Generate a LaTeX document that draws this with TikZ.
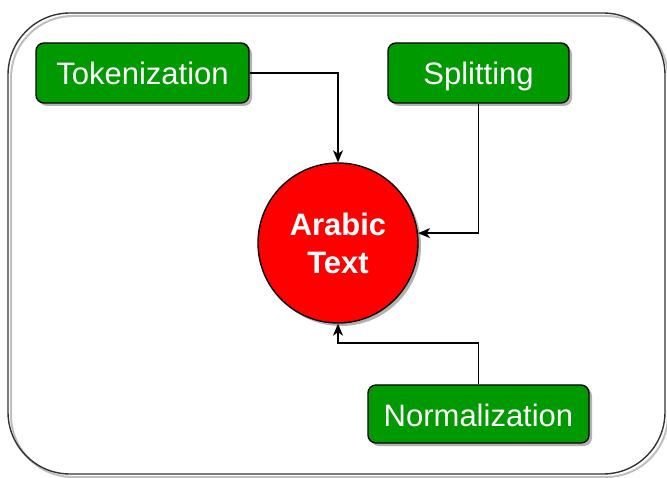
\documentclass[tikz,border=0pt]{standalone}
\usepackage{fontspec}
\setmainfont{Liberation Sans}
\usetikzlibrary{arrows.meta,calc}
\definecolor{boxgreen}{HTML}{009900}
\definecolor{circred}{HTML}{FF0000}
\tikzset{
  stepbox/.style={draw=black, line width=1.4pt, fill=boxgreen, rounded corners=8pt,
    text=white, font=\fontsize{31}{38}\selectfont, inner sep=0pt, anchor=center,
    text height=28pt, text depth=4pt},
  shadowed/.style={preaction={fill=black, opacity=0.3, transform canvas={shift={(3pt,-3pt)}}}},
  bigcirc/.style={circle, draw=black, line width=1.4pt, fill=circred, text=white,
    minimum size=160pt, inner sep=0pt, align=center,
    font=\bfseries\fontsize{31}{38}\selectfont},
  arr/.style={draw=black, line width=1.4pt, -{Stealth[length=12pt,width=10pt,inset=3.5pt]}},
  outer/.style={draw=black!80, line width=1.4pt, rounded corners=62pt}
}
\begin{document}
\begin{tikzpicture}[x=1pt,y=-1pt]
\useasboundingbox (0,0) rectangle (667,478);
% outer frame with shadow
\draw[black!25, line width=2pt, rounded corners=62pt] (11,16) rectangle (668,477);
\draw[outer] (8,13) rectangle (665,474);
% boxes
\node[stepbox, shadowed, minimum width=213pt, minimum height=60pt] (tok) at (142.5,73) {Tokenization};
\node[stepbox, shadowed, minimum width=181pt, minimum height=60pt] (split) at (478.5,73) {Splitting};
\node[stepbox, shadowed, minimum width=221pt, minimum height=58pt] (norm) at (478.5,414) {Normalization};
% circle
\node[bigcirc, shadowed] (circ) at (338,243) {Arabic\\Text};
% connectors
\coordinate (nb) at (338,343);
\draw[arr] (tok.east) -| (circ.north);
\draw[arr] (split.south) |- (circ.7.2);
\draw[arr] (norm.north) |- (nb) -- (circ.south);
\end{tikzpicture}
\end{document}
